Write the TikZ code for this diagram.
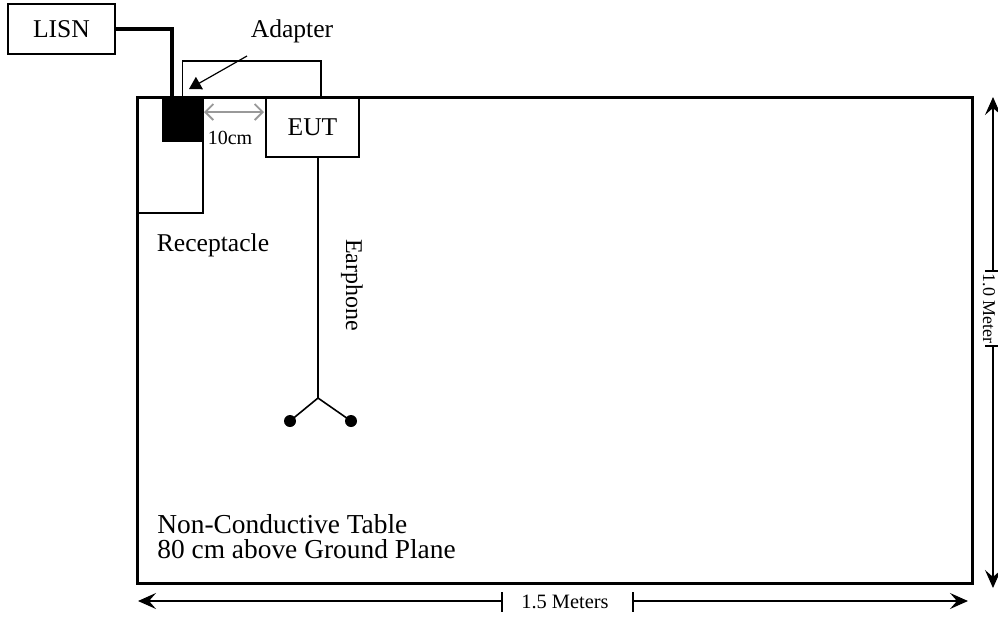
\documentclass[tikz,border=0pt]{standalone}
\usepackage{fontspec}
\setmainfont{Liberation Serif}
\usetikzlibrary{arrows.meta,fit,calc}
\begin{document}
\begin{tikzpicture}[x=0.5pt,y=-0.5pt,
  box/.style={draw,line width=0.7pt,inner sep=0pt},
  lbl/.style={inner sep=0pt,font=\fontsize{12.8}{15}\selectfont},
  small/.style={inner sep=0pt,font=\fontsize{10.2}{12}\selectfont},
  big/.style={inner sep=0pt,font=\fontsize{13.7}{16}\selectfont,anchor=base west},
  dim/.style={line width=0.7pt},
  tip/.style={-{Stealth[length=9pt,width=8pt,inset=3.5pt]}},
  cord/.style={line width=0.8pt},
]
\useasboundingbox (0,0) rectangle (998,618);
% boxes
\node[box,line width=1.5pt,fit={(137,97)(972,583)}] (table) {};
\node[box,fit={(137,97)(203,213)}] (recept) {};
\node[box,fill=black,fit={(163,97)(202,141)}] (adapter) {};
\node[box,fit={(266,97)(359,157)}] (eutbox) {};
\node[lbl] (eut) at (eutbox.center) {EUT};
\node[box,fit={(8,4)(115,54)}] (lisnbox) {};
\node[lbl] (lisn) at (lisnbox.center) {LISN};
% coordinates
\coordinate (cin) at (172,97);
\coordinate (eutin) at (321,97);
\coordinate (cordtop) at (318,157);
\coordinate (jn) at (318,398);
\coordinate (ear1) at (290,421);
\coordinate (ear2) at (351,421);
\coordinate (ptrstart) at (247,56);
\coordinate (ptrend) at (189,89);
% cables
\draw[line width=2pt] (lisnbox.east) -| (cin);
\draw[cord] (adapter.north) |- (321,61) -- (eutin);
\draw[cord] (cordtop) -- (jn) -- (ear1);
\draw[cord] (jn) -- (ear2);
\fill (ear1) circle[radius=6];
\fill (ear2) circle[radius=6];
% labels
\node[lbl] (adlbl) at (292,31) {Adapter};
\draw[line width=0.6pt,-{Triangle[length=6pt,width=7pt]}] (ptrstart) -- (ptrend);
\coordinate (g1) at (204,112);
\coordinate (g2) at (264,112);
\draw[gray!80,line width=0.9pt,{Straight Barb[length=4pt,width=8pt]}-{Straight Barb[length=4pt,width=8pt]}] (g1) -- (g2);
\node[small,font=\fontsize{10}{12}\selectfont] (tencm) at (230,138) {10cm};
\node[lbl] (reclbl) at (213,245) {Receptacle};
\node[lbl,rotate=-90,font=\fontsize{12}{14}\selectfont] (earlbl) at (352,285) {Earphone};
\node[big] (t1) at (157,533) {Non-Conductive Table};
\node[big] (t2) at (157,558) {80 cm above Ground Plane};
% right dimension
\coordinate (r1) at (993,271);
\coordinate (r1t) at (993,97);
\coordinate (r2) at (993,346);
\coordinate (r2t) at (993,588);
\draw[dim,tip] (r1) -- (r1t);
\draw[dim,tip] (r2) -- (r2t);
\draw[dim] ($(r1)+(-8,0)$) -- ($(r1)+(8,0)$);
\draw[dim] ($(r2)+(-8,0)$) -- ($(r2)+(8,0)$);
\node[inner sep=0pt,font=\fontsize{9}{11}\selectfont,rotate=-90,anchor=base] (mlbl) at (983,308.5) {1.0 Meter};
% bottom dimension
\coordinate (b1) at (502,601);
\coordinate (b1t) at (138,601);
\coordinate (b2) at (633,601);
\coordinate (b2t) at (968,601);
\draw[dim,tip] (b1) -- (b1t);
\draw[dim,tip] (b2) -- (b2t);
\draw[dim] ($(b1)+(0,-9)$) -- ($(b1)+(0,11)$);
\draw[dim] ($(b2)+(0,-9)$) -- ($(b2)+(0,11)$);
\node[small] (blbl) at (565,602) {1.5 Meters};
\end{tikzpicture}
\end{document}
